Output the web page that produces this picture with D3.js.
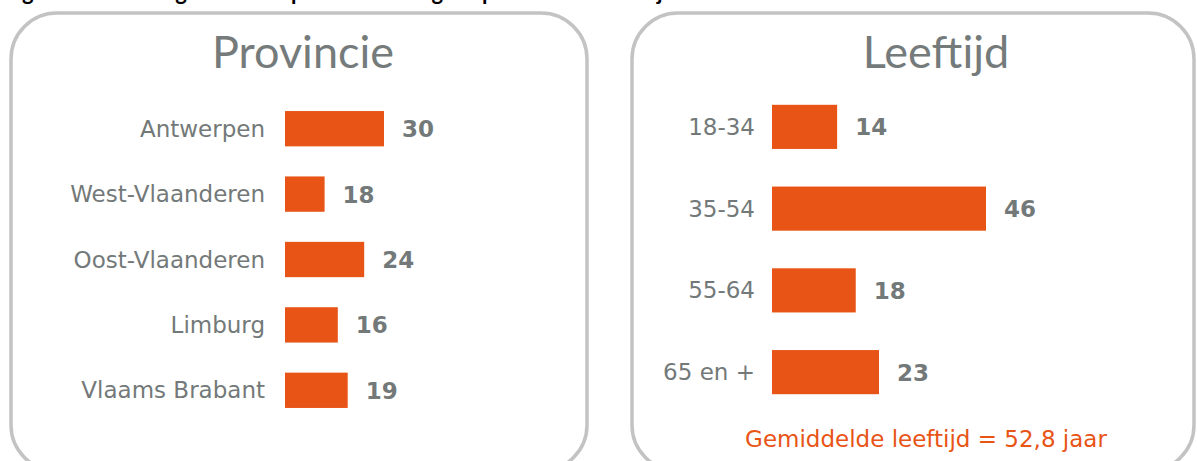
<!DOCTYPE html>
<html>
<head>
<meta charset="utf-8">
<script src="https://cdn.jsdelivr.net/npm/d3@7"></script>
<style>
  body { margin: 0; background: #fff; }
  svg { display: block; }
</style>
</head>
<body>
<div id="chart"></div>
<script>
// data
const provinces = ["Antwerpen", "West-Vlaanderen", "Oost-Vlaanderen", "Limburg", "Vlaams Brabant"]
const provinceLabels = [30, 18, 24, 16, 19]
// bar lengths as drawn in the picture (West-Vlaanderen bar is drawn shorter than its label)
const provinceBars = [30, 12, 24, 16, 19]

const ageGroups = ["18-34", "35-54", "55-64", "65 en +"]
const ageValues = [14, 46, 18, 23]

const avgText = "Gemiddelde leeftijd = 52,8 jaar"

const width = 1197, height = 461
const orange = "#e85416"
const grey = "#737979"
const labelFont = "'DejaVu Sans', sans-serif"

const svg = d3.select("#chart")
  .append("svg")
  .attr("width", width)
  .attr("height", height)

// cut off caption above the panels
svg.append("text")
  .attr("x", 4)
  .attr("y", 0)
  .attr("font-family", "Lato, sans-serif")
  .attr("font-weight", "bold")
  .attr("font-size", "22px")
  .attr("fill", "#000")
  .text("Figuur 2: Verdeling van de respondenten volgens provincie en leeftijd")

// panels
const panels = [
  { x: 11, w: 576, title: "Provincie", tx: 303 },
  { x: 632, w: 562, title: "Leeftijd", tx: 936 }
]

svg.selectAll("rect.panel")
  .data(panels)
  .enter().append("rect")
  .attr("class", "panel")
  .attr("x", d => d.x)
  .attr("y", 13)
  .attr("width", d => d.w)
  .attr("height", 458)
  .attr("rx", 46)
  .attr("fill", "none")
  .attr("stroke", "#c3c3c3")
  .attr("stroke-width", 3.5)

svg.selectAll("text.title")
  .data(panels)
  .enter().append("text")
  .attr("class", "title")
  .attr("x", d => d.tx)
  .attr("y", 68)
  .attr("text-anchor", "middle")
  .attr("font-family", "Lato, sans-serif")
  .attr("font-size", "45px")
  .attr("fill", "#757b7b")
  .text(d => d.title)

// left: provincie
const provData = provinces.map((p, i) => ({ name: p, bar: provinceBars[i], label: provinceLabels[i] }))

const yProv = d3.scaleBand()
  .domain(provinces)
  .range([96, 423])
  .paddingInner(0.46)
  .paddingOuter(0.23)

const xProv = d3.scaleLinear()
  .domain([0, 30])
  .range([285, 384])

const left = svg.append("g")

left.selectAll("rect")
  .data(provData)
  .enter().append("rect")
  .attr("x", xProv(0))
  .attr("y", d => yProv(d.name))
  .attr("width", d => xProv(d.bar) - xProv(0))
  .attr("height", yProv.bandwidth())
  .attr("fill", orange)

left.selectAll("text.cat")
  .data(provData)
  .enter().append("text")
  .attr("class", "cat")
  .attr("x", xProv(0) - 20)
  .attr("y", d => yProv(d.name) + yProv.bandwidth() / 2)
  .attr("dy", "0.35em")
  .attr("text-anchor", "end")
  .attr("font-family", labelFont)
  .attr("font-size", "23px")
  .attr("fill", grey)
  .text(d => d.name)

left.selectAll("text.val")
  .data(provData)
  .enter().append("text")
  .attr("class", "val")
  .attr("x", d => xProv(d.bar) + 18)
  .attr("y", d => yProv(d.name) + yProv.bandwidth() / 2)
  .attr("dy", "0.37em")
  .attr("font-family", labelFont)
  .attr("font-weight", "bold")
  .attr("font-size", "23px")
  .attr("fill", grey)
  .text(d => d.label)

// right: leeftijd
const ageData = ageGroups.map((a, i) => ({ name: a, value: ageValues[i] }))

const yAge = d3.scaleBand()
  .domain(ageGroups)
  .range([86, 413])
  .paddingInner(0.46)
  .paddingOuter(0.23)

const xAge = d3.scaleLinear()
  .domain([0, 46])
  .range([772, 986])

const right = svg.append("g")

right.selectAll("rect")
  .data(ageData)
  .enter().append("rect")
  .attr("x", xAge(0))
  .attr("y", d => yAge(d.name))
  .attr("width", d => xAge(d.value) - xAge(0))
  .attr("height", yAge.bandwidth())
  .attr("fill", orange)

right.selectAll("text.cat")
  .data(ageData)
  .enter().append("text")
  .attr("class", "cat")
  .attr("x", xAge(0) - 17)
  .attr("y", d => yAge(d.name) + yAge.bandwidth() / 2)
  .attr("dy", "0.35em")
  .attr("text-anchor", "end")
  .attr("font-family", labelFont)
  .attr("font-size", "23px")
  .attr("fill", grey)
  .text(d => d.name)

right.selectAll("text.val")
  .data(ageData)
  .enter().append("text")
  .attr("class", "val")
  .attr("x", d => xAge(d.value) + 18)
  .attr("y", d => yAge(d.name) + yAge.bandwidth() / 2)
  .attr("dy", "0.37em")
  .attr("font-family", labelFont)
  .attr("font-weight", "bold")
  .attr("font-size", "23px")
  .attr("fill", grey)
  .text(d => d.value)

right.append("text")
  .attr("x", 926)
  .attr("y", 447)
  .attr("text-anchor", "middle")
  .attr("font-family", labelFont)
  .attr("font-size", "23px")
  .attr("fill", orange)
  .text(avgText)
</script>
</body>
</html>
